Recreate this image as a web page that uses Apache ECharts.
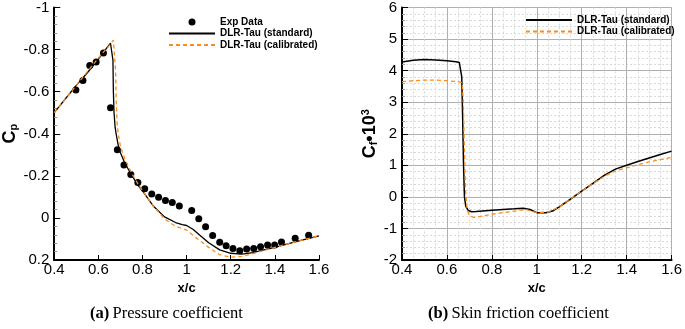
<!DOCTYPE html>
<html><head><meta charset="utf-8">
<script src="https://cdn.jsdelivr.net/npm/echarts@6/dist/echarts.min.js"></script>
<style>html,body{margin:0;padding:0;background:#fff}#c{width:685px;height:329px}</style>
</head><body><div id="c"></div>
<script>
// ---- Data ----
const xTicks = [0.4, 0.6, 0.8, 1, 1.2, 1.4, 1.6];
const cpTicks = [-1, -0.8, -0.6, -0.4, -0.2, 0, 0.2];
const cfTicks = [-2, -1, 0, 1, 2, 3, 4, 5, 6];

const expX = [0.498,0.530,0.561,0.590,0.623,0.655,0.686,0.716,0.747,0.779,0.810,0.842,0.873,0.904,0.935,0.967,1.023,1.055,1.086,1.118,1.150,1.179,1.210,1.241,1.272,1.304,1.335,1.367,1.399,1.430,1.492,1.553];
const expCp = [-0.608,-0.653,-0.724,-0.741,-0.784,-0.523,-0.324,-0.252,-0.206,-0.168,-0.139,-0.114,-0.098,-0.083,-0.073,-0.057,-0.035,0.004,0.042,0.083,0.116,0.132,0.145,0.156,0.148,0.145,0.137,0.129,0.129,0.115,0.097,0.082];

const cpStdX = [0.40,0.45,0.50,0.55,0.60,0.64,0.655,0.662,0.666,0.668,0.671,0.676,0.682,0.69,0.70,0.72,0.75,0.78,0.80,0.85,0.90,0.95,0.98,1.00,1.03,1.06,1.10,1.15,1.20,1.25,1.30,1.35,1.40,1.45,1.50,1.55,1.60];
const cpStdY = [-0.50,-0.565,-0.63,-0.69,-0.755,-0.81,-0.83,-0.825,-0.75,-0.6,-0.5,-0.43,-0.39,-0.345,-0.31,-0.26,-0.205,-0.155,-0.128,-0.055,-0.005,0.022,0.032,0.036,0.055,0.082,0.118,0.152,0.168,0.172,0.165,0.152,0.14,0.126,0.112,0.098,0.085];

const cpCalX = [0.40,0.45,0.50,0.55,0.60,0.65,0.668,0.674,0.678,0.681,0.685,0.69,0.70,0.72,0.75,0.78,0.80,0.85,0.90,0.95,1.00,1.05,1.10,1.15,1.20,1.25,1.30,1.35,1.40,1.45,1.50,1.55,1.60];
const cpCalY = [-0.50,-0.565,-0.63,-0.695,-0.76,-0.82,-0.845,-0.84,-0.7,-0.55,-0.45,-0.4,-0.34,-0.28,-0.215,-0.16,-0.13,-0.055,0.005,0.04,0.058,0.1,0.14,0.175,0.187,0.183,0.17,0.155,0.14,0.126,0.112,0.098,0.085];

const cfStdX = [0.40,0.45,0.50,0.55,0.60,0.64,0.655,0.662,0.666,0.670,0.674,0.678,0.684,0.695,0.71,0.73,0.80,0.90,0.94,0.97,1.00,1.04,1.07,1.10,1.15,1.20,1.25,1.30,1.35,1.40,1.45,1.50,1.55,1.60];
const cfStdY = [4.27,4.33,4.35,4.34,4.31,4.28,4.26,4.2,3.8,2.5,1.0,0.0,-0.3,-0.43,-0.47,-0.46,-0.42,-0.38,-0.36,-0.40,-0.50,-0.50,-0.45,-0.32,-0.07,0.18,0.43,0.68,0.88,1.0,1.12,1.23,1.34,1.45];

const cfCalX = [0.40,0.45,0.50,0.55,0.60,0.65,0.668,0.673,0.678,0.683,0.69,0.70,0.72,0.75,0.80,0.90,0.95,1.00,1.05,1.10,1.15,1.20,1.25,1.30,1.35,1.40,1.45,1.50,1.55,1.60];
const cfCalY = [3.65,3.68,3.70,3.70,3.68,3.65,3.62,3.0,1.5,0.2,-0.4,-0.6,-0.65,-0.62,-0.55,-0.45,-0.40,-0.50,-0.48,-0.32,-0.06,0.18,0.42,0.65,0.82,0.92,1.02,1.11,1.18,1.25];

const names = ['Exp Data', 'DLR-Tau (standard)', 'DLR-Tau (calibrated)'];

// ---- Build ----
const zip = (a, b) => a.map((v, i) => [v, b[i]]);
const fmt = v => String(parseFloat(Number(v).toFixed(2)));
const FONT = 'Liberation Sans';
const ORANGE = '#ff8c1a';
const TICKFS = 15;

function xAxisCfg(gi, grid) {
  return {
    type: 'value', gridIndex: gi, min: xTicks[0], max: xTicks[xTicks.length - 1], interval: 0.2,
    axisLine: {show: true, onZero: false, lineStyle: {color: '#000', width: 2}},
    axisTick: {show: true, inside: true, length: 5, lineStyle: {color: '#000', width: 1}},
    axisLabel: {formatter: fmt, color: '#000', fontFamily: FONT, fontSize: TICKFS, margin: 2},
    splitLine: grid ? {show: true, lineStyle: {color: '#b0b0b0', width: 1}} : {show: false},
    minorTick: {show: false, splitNumber: 4},
    minorSplitLine: grid ? {show: true, lineStyle: {color: '#d9d9d9', width: 1, type: [2, 2]}} : {show: false},
    name: 'x/c', nameLocation: 'middle', nameGap: 18,
    nameTextStyle: {color: '#000', fontFamily: FONT, fontWeight: 'bold', fontSize: 13}
  };
}

const hideSym = {opacity: 0};

const option = {
  animation: false,
  backgroundColor: '#fff',
  grid: [
    {left: 46, right: 366, top: 7, bottom: 69},
    {left: 402, right: 11, top: 6, bottom: 69}
  ],
  xAxis: [xAxisCfg(0, false), xAxisCfg(1, true)],
  yAxis: [
    {
      type: 'value', gridIndex: 0, min: cpTicks[0], max: cpTicks[cpTicks.length - 1], interval: 0.2, inverse: true,
      axisLine: {show: true, onZero: false, lineStyle: {color: '#000', width: 2}},
      axisTick: {show: true, inside: true, length: 6, lineStyle: {color: '#000'}},
      minorTick: {show: true, splitNumber: 5, length: 3, lineStyle: {color: '#999'}},
      axisLabel: {formatter: fmt, color: '#000', fontFamily: FONT, fontSize: TICKFS, margin: 5},
      splitLine: {show: false},
      name: '{c|C}{p|p}', nameLocation: 'middle', nameGap: 30, nameRotate: 90,
      nameTextStyle: {rich: {
        c: {fontFamily: FONT, fontWeight: 'bold', fontSize: 18, color: '#000'},
        p: {fontFamily: FONT, fontWeight: 'bold', fontSize: 11, color: '#000', verticalAlign: 'bottom', padding: [8, 0, 0, 0]}
      }}
    },
    {
      type: 'value', gridIndex: 1, min: cfTicks[0], max: cfTicks[cfTicks.length - 1], interval: 1,
      axisLine: {show: true, onZero: false, lineStyle: {color: '#000', width: 2}},
      axisTick: {show: true, inside: true, length: 6, lineStyle: {color: '#000'}},
      minorTick: {show: true, splitNumber: 5, length: 3, lineStyle: {color: '#999'}},
      axisLabel: {formatter: fmt, color: '#000', fontFamily: FONT, fontSize: TICKFS, margin: 5},
      splitLine: {show: true, lineStyle: {color: '#b0b0b0', width: 1}},
      minorSplitLine: {show: true, lineStyle: {color: '#d9d9d9', width: 1, type: [2, 2]}},
      name: '{c|C}{f|f}{d|•10}{e|3}', nameLocation: 'middle', nameGap: 22, nameRotate: 90,
      nameTextStyle: {rich: {
        c: {fontFamily: FONT, fontWeight: 'bold', fontSize: 18, color: '#000'},
        f: {fontFamily: FONT, fontWeight: 'bold', fontSize: 11, color: '#000', verticalAlign: 'bottom', padding: [8, 0, 0, 0]},
        d: {fontFamily: FONT, fontWeight: 'bold', fontSize: 18, color: '#000'},
        e: {fontFamily: FONT, fontWeight: 'bold', fontSize: 11, color: '#000', verticalAlign: 'top', padding: [0, 0, 8, 0]}
      }}
    }
  ],
  legend: [
    {
      left: 163, top: 12, orient: 'vertical', itemWidth: 46, itemHeight: 7, itemGap: 1.5,
      data: [
        {name: names[0], icon: 'circle'},
        {name: names[1], itemStyle: hideSym},
        {name: names[2], itemStyle: hideSym}
      ],
      textStyle: {fontFamily: FONT, fontWeight: 'bold', fontSize: 10, color: '#000'},
      selectedMode: false
    },
    {
      left: 520, top: 10, orient: 'vertical', itemWidth: 46, itemHeight: 7, itemGap: 1.5,
      data: [{name: names[1] + ' ', itemStyle: hideSym}, {name: names[2] + ' ', itemStyle: hideSym}],
      textStyle: {fontFamily: FONT, fontWeight: 'bold', fontSize: 10, color: '#000'},
      selectedMode: false
    }
  ],
  series: [
    {name: names[0], type: 'scatter', xAxisIndex: 0, yAxisIndex: 0, data: zip(expX, expCp), symbolSize: 7, itemStyle: {color: '#000', opacity: 1}},
    {name: names[1], type: 'line', xAxisIndex: 0, yAxisIndex: 0, data: zip(cpStdX, cpStdY), showSymbol: false, symbol: 'none', lineStyle: {color: '#000', width: 1.3}, itemStyle: {color: '#000'}},
    {name: names[2], type: 'line', xAxisIndex: 0, yAxisIndex: 0, data: zip(cpCalX, cpCalY), showSymbol: false, symbol: 'none', lineStyle: {color: ORANGE, width: 1.3, type: [4, 3]}, itemStyle: {color: ORANGE}},
    {name: names[1] + ' ', type: 'line', xAxisIndex: 1, yAxisIndex: 1, data: zip(cfStdX, cfStdY), showSymbol: false, symbol: 'none', lineStyle: {color: '#000', width: 1.5}, itemStyle: {color: '#000'}},
    {name: names[2] + ' ', type: 'line', xAxisIndex: 1, yAxisIndex: 1, data: zip(cfCalX, cfCalY), showSymbol: false, symbol: 'none', lineStyle: {color: ORANGE, width: 1.3, type: [4, 3]}, itemStyle: {color: ORANGE}}
  ],
  graphic: [
    {type: 'text', left: 90, top: 305, style: {
      text: '{b|(a)} {n|Pressure coefficient}',
      rich: {b: {fontFamily: 'Liberation Serif', fontWeight: 'bold', fontSize: 16.5, fill: '#000'},
             n: {fontFamily: 'Liberation Serif', fontSize: 16.5, fill: '#000'}}
    }},
    {type: 'text', left: 428, top: 305, style: {
      text: '{b|(b)} {n|Skin friction coefficient}',
      rich: {b: {fontFamily: 'Liberation Serif', fontWeight: 'bold', fontSize: 16.5, fill: '#000'},
             n: {fontFamily: 'Liberation Serif', fontSize: 16.5, fill: '#000'}}
    }}
  ]
};

const chart = echarts.init(document.getElementById('c'), null, {renderer: 'canvas'});
chart.setOption(option);
</script></body></html>
